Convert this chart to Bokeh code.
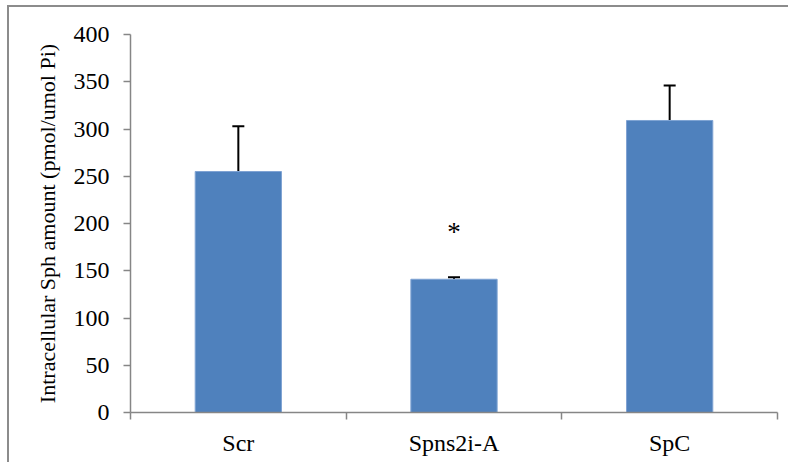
from bokeh.plotting import figure
from bokeh.models import FixedTicker, Whisker, TeeHead, ColumnDataSource, Range1d, InlineStyleSheet
from bokeh.core.properties import value
from bokeh.embed import file_html
from bokeh.resources import INLINE

categories = ["Scr", "Spns2i-A", "SpC"]
amounts = [255, 141, 309]
errors = [48, 2, 37]
significance = ["", "*", ""]
y_ticks = [0, 50, 100, 150, 200, 250, 300, 350, 400]

xs = [i + 0.5 for i in range(len(categories))]
src = ColumnDataSource(dict(
    x=xs, top=amounts,
    upper=[a + e for a, e in zip(amounts, errors)],
    lower=amounts,
))

FONT = "Liberation Serif"
AXIS_COLOR = "#868686"

p = figure(width=788, height=462, output_backend="svg", toolbar_location=None,
           x_range=Range1d(0, len(categories)), y_range=Range1d(0, 400),
           min_border_left=130, min_border_right=11, min_border_top=34,
           min_border_bottom=50)
p.outline_line_color = None
p.grid.visible = False
p.styles = {"position": "relative"}
p.stylesheets = [InlineStyleSheet(css=(
    ":host::after{content:'';position:absolute;left:7px;top:5px;right:0;bottom:0;"
    "border-top:2px solid #8c8c8c;border-left:2px solid #8c8c8c;"
    "pointer-events:none;z-index:10;}"
))]

p.vbar(x="x", top="top", width=0.4, bottom=0, source=src,
       fill_color="#4F81BD", line_color="#7FA3D3", line_width=1)

w = Whisker(base="x", upper="upper", lower="lower", source=src,
            line_color="black", line_width=2,
            upper_head=TeeHead(size=12, line_color="black", line_width=2),
            lower_head=None)
p.add_layout(w)

sig_y = [191 if s else 0 for s in significance]
p.text(x=xs, y=sig_y, text=significance, text_font=value(FONT),
       text_font_size="27px", text_align="center", text_baseline="middle",
       text_color="black")

# y axis
p.yaxis.ticker = FixedTicker(ticks=y_ticks)
p.yaxis.axis_label = "Intracellular Sph amount (pmol/umol Pi)"
p.yaxis.axis_label_text_font = FONT
p.yaxis.axis_label_text_font_style = "normal"
p.yaxis.axis_label_text_font_size = "22px"
p.yaxis.axis_label_text_color = "black"
p.yaxis.axis_label_standoff = 11
p.yaxis.major_label_text_font = FONT
p.yaxis.major_label_text_font_size = "24px"
p.yaxis.major_label_text_color = "black"
p.yaxis.major_label_standoff = 14
p.yaxis.axis_line_color = AXIS_COLOR
p.yaxis.axis_line_width = 1.5
p.yaxis.major_tick_line_color = AXIS_COLOR
p.yaxis.major_tick_line_width = 1.5
p.yaxis.major_tick_out = 7
p.yaxis.major_tick_in = 0
p.yaxis.minor_tick_line_color = None

# x axis
p.xaxis.ticker = FixedTicker(ticks=xs, minor_ticks=list(range(len(categories) + 1)))
p.xaxis.major_label_overrides = {x: c for x, c in zip(xs, categories)}
p.xaxis.major_label_text_font = FONT
p.xaxis.major_label_text_font_size = "24px"
p.xaxis.major_label_text_color = "black"
p.xaxis.major_label_standoff = 10
p.xaxis.axis_line_color = AXIS_COLOR
p.xaxis.axis_line_width = 1.5
p.xaxis.major_tick_line_color = None
p.xaxis.minor_tick_line_color = AXIS_COLOR
p.xaxis.minor_tick_line_width = 1.5
p.xaxis.minor_tick_out = 7
p.xaxis.minor_tick_in = 0

open("out.html", "w").write(file_html(p, INLINE))
